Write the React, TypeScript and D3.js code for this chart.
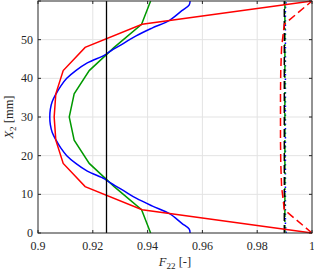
import * as d3 from "d3";

// heights along the specimen [mm]
const yCoarse = [0, 6, 12, 18, 24, 30, 36, 42, 48, 54, 60];

const redSolid = [1, 0.938, 0.9172, 0.9092, 0.9065, 0.9059, 0.9065, 0.9092, 0.9172, 0.938, 1];
const greenSolid = [0.9411, 0.9378, 0.9278, 0.9187, 0.9132, 0.9114, 0.9132, 0.9187, 0.9278, 0.9378, 0.9411];
const redDashed = [1, 0.9899, 0.9889, 0.9886, 0.9885, 0.9885, 0.9885, 0.9886, 0.9889, 0.9899, 1];

const yBlue = [0, 1, 2.5, 5, 7, 9, 11, 13, 14, 16, 18, 20, 22, 24, 26, 28, 30,
  32, 34, 36, 38, 40, 42, 44, 46, 47, 49, 51, 53, 55, 57.5, 59, 60];
const blueSolid = [0.9555, 0.9552, 0.9525, 0.948, 0.9416, 0.9358, 0.9311, 0.9263, 0.9243, 0.918,
  0.9138, 0.9105, 0.9083, 0.9066, 0.9052, 0.9045, 0.9043, 0.9045, 0.9052, 0.9066, 0.9083,
  0.9105, 0.9138, 0.918, 0.9243, 0.9263, 0.9311, 0.9358, 0.9416, 0.948, 0.9525, 0.9552, 0.9555];

const yFlat = [0, 2, 58, 60];
const blueDotted = [0.9906, 0.9903, 0.9903, 0.9906];
const greenDashDot = [0.9901, 0.9901, 0.9901, 0.9901];
const blackDashed = [0.9899, 0.9899, 0.9899, 0.9899];

const blackRef = 0.925;

const xTicks = [0.9, 0.92, 0.94, 0.96, 0.98, 1];
const yTicks = [0, 10, 20, 30, 40, 50, 60];

const W = 314;
const H = 270;
const m = { left: 38, right: 2, top: 1, bottom: 37 };
const font = "'Liberation Serif', 'DejaVu Serif', serif";

export default function App() {
  const x = d3.scaleLinear().domain([0.9, 1]).range([m.left, W - m.right]);
  const y = d3.scaleLinear().domain([0, 60]).range([H - m.bottom, m.top]);

  const mk = (xs: number[], ys: number[], curve: d3.CurveFactory = d3.curveLinear) =>
    d3.line<number>().x((v) => x(v)).y((_, i) => y(ys[i])).curve(curve)(xs) || "";

  const x0 = x(0.9), x1 = x(1), y0 = y(0), y1 = y(60);
  const axisColor = "#262626";

  return (
    <svg width={W} height={H} style={{ position: "absolute", left: 0, top: 0, background: "#fff" }}>
      {/* grid */}
      <g stroke="#e3e3e3" strokeWidth={1}>
        {xTicks.slice(1, -1).map((t) => (
          <line key={"gx" + t} x1={x(t)} x2={x(t)} y1={y0} y2={y1} />
        ))}
        {yTicks.slice(1, -1).map((t) => (
          <line key={"gy" + t} x1={x0} x2={x1} y1={y(t)} y2={y(t)} />
        ))}
      </g>

      {/* curves */}
      <g fill="none" strokeWidth={1.5}>
        <path d={mk(blueDotted, yFlat)} stroke="#0000ff" strokeDasharray="1.5,3" />
        <path d={mk(greenDashDot, yFlat)} stroke="#009900" strokeDasharray="8,3,2,3" />
        <path d={mk(blackDashed, yFlat)} stroke="#000" strokeDasharray="8,4" />
        <path d={mk(redDashed, yCoarse)} stroke="#ff0000" strokeDasharray="8,4" />
        <path d={mk(greenSolid, yCoarse)} stroke="#009900" />
        <path d={mk(blueSolid, yBlue, d3.curveCatmullRom)} stroke="#0000ff" />
        <path d={mk(redSolid, yCoarse)} stroke="#ff0000" />
        <line x1={x(blackRef)} x2={x(blackRef)} y1={y0} y2={y1} stroke="#000" strokeWidth={1.3} />
      </g>

      {/* box + ticks */}
      <g stroke={axisColor} strokeWidth={1} fill="none">
        <rect x={x0} y={y1} width={x1 - x0} height={y0 - y1} />
        {xTicks.map((t) => (
          <g key={"tx" + t}>
            <line x1={x(t)} x2={x(t)} y1={y0} y2={y0 - 3} />
            <line x1={x(t)} x2={x(t)} y1={y1} y2={y1 + 3} />
          </g>
        ))}
        {yTicks.map((t) => (
          <g key={"ty" + t}>
            <line x1={x0} x2={x0 + 3} y1={y(t)} y2={y(t)} />
            <line x1={x1} x2={x1 - 3} y1={y(t)} y2={y(t)} />
          </g>
        ))}
      </g>

      {/* tick labels */}
      <g fontFamily={font} fontSize={12} fill={axisColor}>
        {xTicks.map((t) => (
          <text key={"lx" + t} x={x(t)} y={y0 + 17} textAnchor="middle">
            {d3.format("~g")(t)}
          </text>
        ))}
        {yTicks.slice(0, -1).map((t) => (
          <text key={"ly" + t} x={x0 - 5} y={y(t) + 4} textAnchor="end">
            {t}
          </text>
        ))}
      </g>

      {/* axis labels */}
      <text x={(x0 + x1) / 2} y={H - 4} textAnchor="middle" fontFamily={font} fontSize={12.5} fill={axisColor}>
        <tspan fontStyle="italic">F</tspan>
        <tspan fontSize={9} dy={3}>22</tspan>
        <tspan dy={-3}> [-]</tspan>
      </text>
      <text
        transform={`translate(13,${(y0 + y1) / 2}) rotate(-90)`}
        textAnchor="middle"
        fontFamily={font}
        fontSize={12.5}
        fill={axisColor}
      >
        <tspan fontStyle="italic">X</tspan>
        <tspan fontSize={9} dy={3}>2</tspan>
        <tspan dy={-3}> [mm]</tspan>
      </text>
    </svg>
  );
}
